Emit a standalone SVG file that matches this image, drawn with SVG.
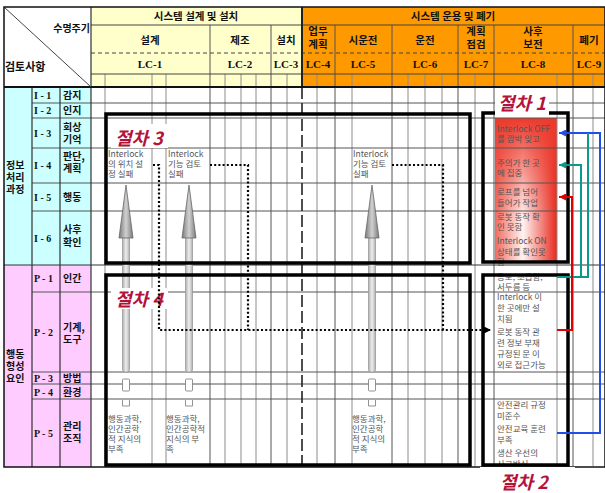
<svg xmlns="http://www.w3.org/2000/svg" width="605" height="493" viewBox="0 0 605 493">
<style>
.g{stroke:#8c8c8c;stroke-width:1;fill:none}
.gm{stroke:#555;stroke-width:1;fill:none}
.gh{stroke:#444;stroke-width:1;fill:none}
.box{fill:none;stroke:#000;stroke-width:3.5}
text{font-family:'Noto Sans CJK KR','Noto Sans',sans-serif}
.hd{font-size:10.5px;font-weight:bold;text-anchor:middle;fill:#111}
.lc{font-family:'Liberation Serif',serif;font-weight:bold;font-size:11px;text-anchor:middle;fill:#111}
.code{font-family:'Liberation Serif',serif;font-weight:bold;font-size:10px;fill:#111}
.nm{font-size:10px;font-weight:bold;fill:#111}
.bt{font-size:8.5px;fill:#555}
.lab{font-size:18px;font-weight:bold;font-style:italic;fill:#B3123A}
.dot{fill:none;stroke:#000;stroke-width:2.2;stroke-dasharray:2,2.2}
.head{fill:url(#headG);stroke:#666;stroke-width:0.8}
.shaft{fill:url(#shaftG);stroke:#999;stroke-width:0.8}
.sm{fill:#fff;stroke:#777;stroke-width:0.8}
</style>
<defs>
<linearGradient id="redH" x1="0" y1="0" x2="1" y2="0">
<stop offset="0" stop-color="#f26a5e"/>
<stop offset="0.45" stop-color="#fff4f2"/>
<stop offset="1" stop-color="#e8281c"/>
</linearGradient>
<linearGradient id="redV" x1="0" y1="0" x2="0" y2="1">
<stop offset="0" stop-color="#ec3a2c" stop-opacity="1"/>
<stop offset="0.35" stop-color="#ec3a2c" stop-opacity="0.5"/>
<stop offset="0.7" stop-color="#ec3a2c" stop-opacity="0"/>
</linearGradient>
<linearGradient id="headG" x1="0" y1="0" x2="1" y2="0">
<stop offset="0" stop-color="#7a7a7a"/>
<stop offset="0.5" stop-color="#d0d0d0"/>
<stop offset="1" stop-color="#7a7a7a"/>
</linearGradient>
<linearGradient id="shaftG" x1="0" y1="0" x2="1" y2="0">
<stop offset="0" stop-color="#b0b0b0"/>
<stop offset="0.5" stop-color="#eeeeee"/>
<stop offset="1" stop-color="#b0b0b0"/>
</linearGradient>
<marker id="mBlue" markerUnits="userSpaceOnUse" markerWidth="7" markerHeight="7" viewBox="0 0 10 10" refX="10" refY="5" orient="auto"><path d="M0,0 L10,5 L0,10 z" fill="#1f4fe8"/></marker>
<marker id="mTeal" markerUnits="userSpaceOnUse" markerWidth="7" markerHeight="7" viewBox="0 0 10 10" refX="10" refY="5" orient="auto"><path d="M0,0 L10,5 L0,10 z" fill="#0a9a8c"/></marker>
<marker id="mRed" markerUnits="userSpaceOnUse" markerWidth="7" markerHeight="7" viewBox="0 0 10 10" refX="10" refY="5" orient="auto"><path d="M0,0 L10,5 L0,10 z" fill="#e00000"/></marker>
<marker id="mBlk" markerUnits="userSpaceOnUse" markerWidth="7" markerHeight="7" viewBox="0 0 10 10" refX="10" refY="5" orient="auto"><path d="M0,0 L10,5 L0,10 z" fill="#000"/></marker>
</defs>

<!-- backgrounds -->
<rect x="0" y="0" width="605" height="493" fill="#fff"/>
<rect x="91" y="7" width="211" height="80" fill="#ffffcc"/>
<rect x="302" y="7" width="303" height="80" fill="#ff9900"/>
<rect x="4" y="87" width="87" height="178" fill="#ccffff"/>
<rect x="4" y="265" width="87" height="202" fill="#ffccff"/>
<rect x="495" y="118" width="62" height="144" fill="url(#redH)"/>
<rect x="495" y="118" width="62" height="144" fill="url(#redV)"/>

<!-- grid -->
<g id="grid">
<path class="g" d="M105,74V466M152,74V466M166,74V466M225,74V466M241,74V466M256,74V466M287,74V466M317,74V466M352,74V466M408,74V466M425,74V466M442,74V466M475,74V466M557,74V466M593,74V466"/>
<path class="gm" d="M210,25V466M271,25V466M335,25V466M392,25V466M458,25V466M494,25V466M573,25V466"/>
<path class="gh" d="M91,25H605M91,74H605"/>
<path class="gh" d="M91,53H605" stroke-dasharray="4,3"/>
<path class="gm" d="M32,103H605M32,118H605M32,148H605M32,183H605M32,211H605M32,292H605M32,372H605M32,384H605M32,399H605"/>
<path stroke="#333" stroke-width="1.2" d="M4,265H605M32,87V467M60,87V467M91,7V467"/>
<path stroke="#222" stroke-width="2" d="M302,7V87"/>
<path stroke="#222" stroke-width="1.6" stroke-dasharray="12,4" d="M302,87V466"/>
<path stroke="#111" stroke-width="2" d="M4,87H605"/>
<path stroke="#444" stroke-width="1" d="M4,7L91,87"/>
<rect x="4" y="7" width="601" height="460" fill="none" stroke="#111" stroke-width="1.5"/>
</g>

<!-- header texts -->
<g id="header">
<text class="hd" x="196" y="20">시스템 설계 및 설치</text>
<text class="hd" x="453" y="20">시스템 운용 및 폐기</text>
<text x="90" y="32" font-size="10" font-weight="bold" text-anchor="end" fill="#111">수명주기</text>
<text x="5" y="71" font-size="11" font-weight="bold" fill="#111">검토사항</text>
<text class="hd" x="150" y="44">설계</text>
<text class="hd" x="240" y="44">제조</text>
<text class="hd" x="286" y="44">설치</text>
<text class="hd" x="318" y="35">업무</text><text class="hd" x="318" y="48">계획</text>
<text class="hd" x="363" y="44">시운전</text>
<text class="hd" x="425" y="44">운전</text>
<text class="hd" x="476" y="35">계획</text><text class="hd" x="476" y="48">점검</text>
<text class="hd" x="533" y="35">사후</text><text class="hd" x="533" y="48">보전</text>
<text class="hd" x="589" y="44">폐기</text>
<text class="lc" x="150" y="68">LC-1</text>
<text class="lc" x="240" y="68">LC-2</text>
<text class="lc" x="286" y="68">LC-3</text>
<text class="lc" x="318" y="68">LC-4</text>
<text class="lc" x="363" y="68">LC-5</text>
<text class="lc" x="425" y="68">LC-6</text>
<text class="lc" x="476" y="68">LC-7</text>
<text class="lc" x="533" y="68">LC-8</text>
<text class="lc" x="589" y="68">LC-9</text>
</g>

<!-- left labels -->
<g id="rows">
<text class="nm" x="6" y="169">정보</text><text class="nm" x="6" y="181">처리</text><text class="nm" x="6" y="193">과정</text>
<text class="nm" x="6" y="358">행동</text><text class="nm" x="6" y="370">형성</text><text class="nm" x="6" y="382">요인</text>
<text class="code" x="34" y="99">I - 1</text><text class="nm" x="63" y="99">감지</text>
<text class="code" x="34" y="114">I - 2</text><text class="nm" x="63" y="114">인지</text>
<text class="code" x="34" y="137">I - 3</text><text class="nm" x="63" y="131">회상</text><text class="nm" x="63" y="143">기억</text>
<text class="code" x="34" y="169">I - 4</text><text class="nm" x="63" y="160">판단,</text><text class="nm" x="63" y="172">계획</text>
<text class="code" x="34" y="201">I - 5</text><text class="nm" x="63" y="201">행동</text>
<text class="code" x="34" y="242">I - 6</text><text class="nm" x="63" y="233">사후</text><text class="nm" x="63" y="246">확인</text>
<text class="code" x="34" y="282">P - 1</text><text class="nm" x="63" y="282">인간</text>
<text class="code" x="34" y="336">P - 2</text><text class="nm" x="63" y="331">기계,</text><text class="nm" x="63" y="343">도구</text>
<text class="code" x="34" y="382">P - 3</text><text class="nm" x="63" y="382">방법</text>
<text class="code" x="34" y="396">P - 4</text><text class="nm" x="63" y="396">환경</text>
<text class="code" x="34" y="437">P - 5</text><text class="nm" x="63" y="430">관리</text><text class="nm" x="63" y="442">조직</text>
</g>

<!-- gray arrows -->
<g id="arrows">
<rect class="shaft" x="122.5" y="236" width="7" height="136" rx="2.5"/>
<polygon class="head" points="126,185 133,238 119,238"/>
<rect class="sm" x="122.5" y="379" width="7" height="12" rx="1"/>
<path class="sm" fill="none" d="M122.5,400V406H129.5V400"/>
<rect class="shaft" x="185.5" y="236" width="7" height="136" rx="2.5"/>
<polygon class="head" points="189,185 196,238 182,238"/>
<rect class="sm" x="185.5" y="379" width="7" height="12" rx="1"/>
<path class="sm" fill="none" d="M185.5,400V406H192.5V400"/>
<rect class="shaft" x="368.5" y="236" width="7" height="136" rx="2.5"/>
<polygon class="head" points="372,185 379,238 365,238"/>
<rect class="sm" x="368.5" y="379" width="7" height="12" rx="1"/>
<path class="sm" fill="none" d="M368.5,400V406H375.5V400"/>
</g>

<!-- boxes -->
<g id="proc3"><rect class="box" x="106" y="114" width="364" height="149"/>
<rect x="111" y="124" width="57" height="24" fill="#fff"/>
<text class="lab" x="115" y="145">절차 3</text>
<text class="bt" x="108" y="157">Interlock</text><text class="bt" x="108" y="167">의 위치 설</text><text class="bt" x="108" y="177">정 실패</text>
<text class="bt" x="168" y="157">Interlock</text><text class="bt" x="168" y="167">기능 검토</text><text class="bt" x="168" y="177">실패</text>
<text class="bt" x="353" y="157">Interlock</text><text class="bt" x="353" y="167">기능 검토</text><text class="bt" x="353" y="177">실패</text>
</g>
<g id="proc4"><rect class="box" x="106" y="275" width="364" height="190"/>
<rect x="111" y="288" width="57" height="21" fill="#fff"/>
<text class="lab" x="115" y="306">절차 4</text>
<text class="bt" x="108" y="422">행동과학,</text><text class="bt" x="108" y="432">인간공학</text><text class="bt" x="108" y="442">적 지식의</text><text class="bt" x="108" y="452">부족</text>
<text class="bt" x="166" y="422">행동과학,</text><text class="bt" x="166" y="432">인간공학적</text><text class="bt" x="166" y="442">지식의 부</text><text class="bt" x="166" y="452">족</text>
<text class="bt" x="352" y="422">행동과학,</text><text class="bt" x="352" y="432">인간공학</text><text class="bt" x="352" y="442">적 지식의</text><text class="bt" x="352" y="452">부족</text>
</g>
<g id="proc1">
<text class="bt" x="497" y="132">Interlock OFF</text><text class="bt" x="497" y="142">를 깜박 잊고</text>
<text class="bt" x="497" y="166">주의가 한 곳</text><text class="bt" x="497" y="176">에 집중</text>
<text class="bt" x="497" y="195">로프를 넘어</text><text class="bt" x="497" y="206">들어가 작업</text>
<text class="bt" x="497" y="220">로봇 동작 확</text><text class="bt" x="497" y="230">인 못함</text>
<text class="bt" x="497" y="244">Interlock ON</text><text class="bt" x="497" y="255">상태를 확인못</text><text class="bt" x="497" y="265">함</text>
<rect class="box" x="483" y="113" width="85" height="149"/>
<rect x="495" y="93" width="54" height="22" fill="#fff"/>
<text class="lab" x="498" y="110">절차 1</text>
</g>
<g id="proc2">
<text class="bt" x="497" y="280">공포, 조급함,</text><text class="bt" x="497" y="290">서두름 등</text>
<text class="bt" x="497" y="300">Interlock 이</text><text class="bt" x="497" y="311">한 곳에만 설</text><text class="bt" x="497" y="322">치됨</text>
<text class="bt" x="497" y="335">로봇 동작 관</text><text class="bt" x="497" y="346">련 정보 부재</text>
<text class="bt" x="497" y="357">규정된 문 이</text><text class="bt" x="497" y="368">외로 접근가능</text>
<text class="bt" x="497" y="408">안전관리 규정</text><text class="bt" x="497" y="419">미준수</text>
<text class="bt" x="497" y="432">안전교육 훈련</text><text class="bt" x="497" y="443">부족</text>
<text class="bt" x="497" y="456">생산 우선의</text><text class="bt" x="497" y="467">사고방식</text>
<rect x="480" y="467" width="95" height="26" fill="#fff"/>
<rect class="box" x="483" y="275" width="85" height="190"/>
<text class="lab" x="500" y="489">절차 2</text>
</g>

<!-- connectors -->
<g id="connectors">
<path class="dot" d="M153,165H159V330H491" marker-end="url(#mBlk)"/>
<path class="dot" d="M210,165H248V330"/>
<path class="dot" d="M392,165H443V330"/>
<path fill="none" stroke="#1f4fe8" stroke-width="2" d="M557,433H600V133H559" marker-end="url(#mBlue)"/>
<path fill="none" stroke="#0a9a8c" stroke-width="2" d="M557,277H588V133"/>
<path fill="none" stroke="#0a9a8c" stroke-width="2" d="M581,277V165H559" marker-end="url(#mTeal)"/>
<path fill="none" stroke="#e00000" stroke-width="2" d="M557,330H572V197H559" marker-end="url(#mRed)"/>
</g>
</svg>
